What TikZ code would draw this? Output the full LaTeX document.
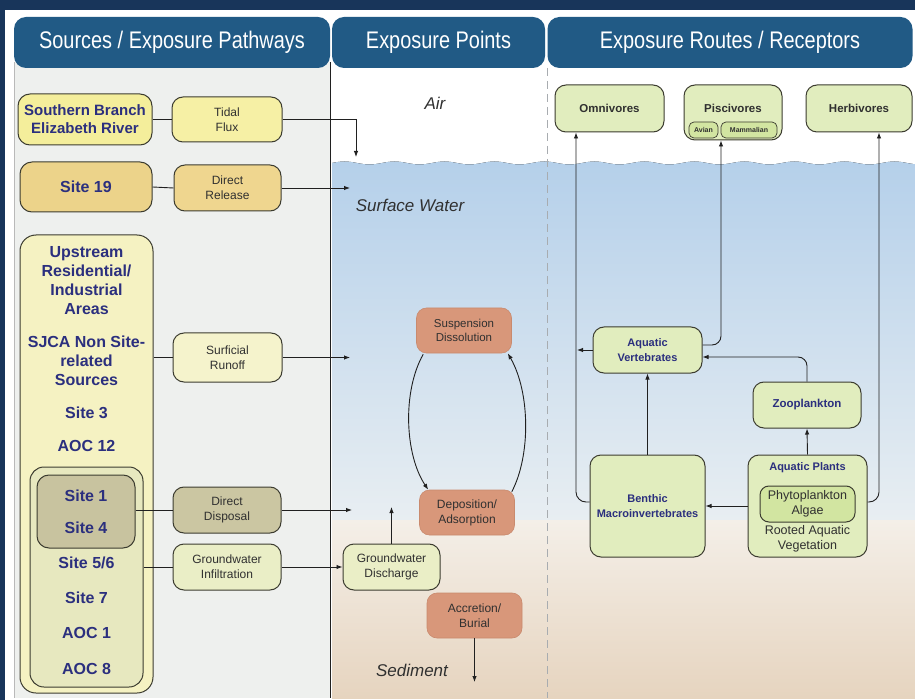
\documentclass[tikz,border=0pt]{standalone}
\usepackage{fontspec}
\setmainfont{Liberation Sans}
\newfontfamily\hdrfont[FakeStretch=0.83]{Liberation Sans}
\usetikzlibrary{arrows.meta,calc}
\definecolor{navyb}{HTML}{18355A}
\definecolor{hdrc}{HTML}{215A85}
\definecolor{panelc}{HTML}{EEF0EE}
\definecolor{boxline}{HTML}{3C3C30}
\definecolor{linec}{HTML}{202020}
\definecolor{tnavy}{HTML}{2B2F7E}
\definecolor{tdark}{HTML}{303030}
\definecolor{ylwA}{HTML}{F4EE9B}
\definecolor{ylwB}{HTML}{F6F0A5}
\definecolor{goldA}{HTML}{ECD38A}
\definecolor{goldB}{HTML}{EFD68F}
\definecolor{bigc}{HTML}{F5F2C2}
\definecolor{innerc}{HTML}{E7E8BF}
\definecolor{khaki}{HTML}{C8C39F}
\definecolor{khakiB}{HTML}{CBC6A2}
\definecolor{paleY}{HTML}{F5F3CC}
\definecolor{paleG}{HTML}{EAEEC6}
\definecolor{salmon}{HTML}{D8977A}
\definecolor{salmonedge}{HTML}{C98A6E}
\definecolor{recg}{HTML}{E1EDBE}
\definecolor{phyto}{HTML}{D2E5A1}
\definecolor{waterA}{HTML}{B5D0EA}
\definecolor{waterB}{HTML}{E8EEF2}
\definecolor{sedA}{HTML}{F4EFE8}
\definecolor{sedB}{HTML}{E6D4BF}
\definecolor{dashc}{HTML}{A8ACB0}
\begin{document}
\begin{tikzpicture}[x=1pt,y=-1pt,
  every node/.style={inner sep=1pt},
  bx/.style={draw=boxline, line width=1pt, rounded corners=12pt, align=center},
  src/.style={bx, font=\fontsize{15.5}{18}\selectfont\bfseries, text=tnavy},
  pth/.style={bx, rounded corners=11pt, font=\fontsize{12}{15}\selectfont, text=tdark, minimum width=108, minimum height=46},
  sal/.style={fill=salmon, draw=salmonedge, line width=0.6pt, rounded corners=10pt, align=center, minimum width=95, minimum height=45, font=\fontsize{11.5}{14.5}\selectfont, text=tdark},
  rec/.style={bx, fill=recg, rounded corners=11pt},
  lbl/.style={font=\fontsize{17}{20}\selectfont\itshape, text=tdark},
  hdr/.style={fill=hdrc, rounded corners=12pt, font=\hdrfont\fontsize{24}{28}\selectfont, text=white},
  srct/.style={font=\fontsize{16}{19}\selectfont\bfseries, text=tnavy, align=center},
  subb/.style={draw=boxline, line width=0.7pt, fill=phyto, rounded corners=5pt, font=\fontsize{7}{8}\selectfont\bfseries, text=tdark, inner sep=0.5pt},
  ln/.style={draw=linec, line width=0.9pt},
  arr/.style={ln, -{Latex[length=6pt,width=4.5pt]}},
]
\useasboundingbox (0,0) rectangle (915,700);
% background frame
\fill[navyb] (0,0) rectangle (915,700);
\fill[white] (5,10) rectangle (915,700);
% left panel
\fill[panelc] (14,62) rectangle (330,698);
\draw[gray!55, line width=0.6pt] (14,62) -- (14,698);
% air / water / sediment
\fill[white] (332,62) rectangle (915,698);
\begin{scope}
  \clip (332,62) rectangle (915,698);
  \fill[top color=waterA, bottom color=waterB]
    (332,163) \foreach \i in {1,...,12}{ sin ++(12.5,-1.5) cos ++(12.5,1.5) sin ++(12.5,1.5) cos ++(12.5,-1.5) }
    -- (932,520) -- (332,520) -- cycle;
  \fill[top color=sedA, bottom color=sedB] (332,520) rectangle (915,698);
\end{scope}
\draw[dashc, line width=0.8pt, dash pattern=on 8pt off 5pt] (547,68) -- (547,698);
\draw[linec, line width=1pt] (330,62) -- (330,698);
% headers
\node[hdr, minimum width=316, minimum height=51] (h1) at (172,42.5) {Sources / Exposure Pathways};
\node[hdr, minimum width=213, minimum height=51] (h2) at (438.5,42.5) {Exposure Points};
\node[hdr, minimum width=365, minimum height=51] (h3) at (730,42.5) {Exposure Routes / Receptors};

% ---------- Sources / pathways ----------
\node[src, fill=ylwA, minimum width=134, minimum height=51, font=\fontsize{15}{18}\selectfont\bfseries] (sb) at (85,119.5) {Southern Branch\\Elizabeth River};
\node[pth, fill=ylwB, minimum width=110, minimum height=45] (tf) at (227,119.5) {Tidal\\Flux};
\node[src, fill=goldA, minimum width=132, minimum height=50, font=\fontsize{16}{19}\selectfont\bfseries] (s19) at (86,187) {Site 19};
\node[pth, fill=goldB, minimum width=107, minimum height=46] (dr) at (227.5,188) {Direct\\Release};

\node[bx, fill=bigc, rounded corners=16pt, minimum width=133, minimum height=458] (big) at (86.5,464) {};
\node[bx, fill=innerc, rounded corners=14pt, minimum width=113, minimum height=220] (inner) at (86.5,577) {};
\node[bx, fill=khaki, rounded corners=12pt, minimum width=98, minimum height=73, font=\fontsize{16}{19}\selectfont\bfseries, text=tnavy] (s14) at (86,511.5) {Site 1\\[13pt]Site 4};

\node[srct] (t1) at (86.5,281) {Upstream\\Residential/\\Industrial\\Areas};
\node[srct] (t2) at (86.5,361) {SJCA Non Site-\\related\\Sources};
\node[srct] (t3) at (86.5,413) {Site 3};
\node[srct] (t4) at (86.5,446) {AOC 12};
\node[srct] (t5) at (86.5,563) {Site 5/6};
\node[srct] (t6) at (86.5,598) {Site 7};
\node[srct] (t7) at (86.5,633) {AOC 1};
\node[srct] (t8) at (86.5,669) {AOC 8};

\node[pth, fill=paleY, minimum width=109, minimum height=49] (sr) at (227.5,357.5) {Surficial\\Runoff};
\node[pth, fill=khakiB, minimum width=108, minimum height=46] (dd) at (227,510) {Direct\\Disposal};
\node[pth, fill=paleG, minimum width=108, minimum height=46] (gi) at (227,567) {Groundwater\\Infiltration};

% ---------- Exposure points ----------
\node[lbl] (air) at (435,103) {Air};
\node[lbl] (sw) at (410,205) {Surface Water};
\node[lbl] (sed) at (412,670) {Sediment};
\node[sal] (sd) at (464,330.5) {Suspension\\Dissolution};
\node[sal, font=\fontsize{12}{15}\selectfont] (dep) at (467,512.5) {Deposition/\\Adsorption};
\node[sal, font=\fontsize{12}{15}\selectfont] (ab) at (474.5,615.5) {Accretion/\\Burial};
\node[pth, fill=paleG, minimum width=97, minimum height=46] (gd) at (391.5,567) {Groundwater\\Discharge};

% ---------- Receptors ----------
\node[rec, minimum width=109, minimum height=47, font=\fontsize{11.5}{14}\selectfont\bfseries, text=tdark] (omn) at (609.5,108.5) {Omnivores};
\node[rec, minimum width=98, minimum height=55] (pis) at (733,112.5) {};
\node[font=\fontsize{11.5}{14}\selectfont\bfseries, text=tdark] (pist) at (733,108) {Piscivores};
\node[subb, minimum width=29, minimum height=16] (avi) at (703.5,130) {Avian};
\node[subb, minimum width=56, minimum height=16] (mam) at (749,130) {Mammalian};
\node[rec, minimum width=106, minimum height=47, font=\fontsize{11.5}{14}\selectfont\bfseries, text=tdark] (herb) at (859,108.5) {Herbivores};

\node[rec, minimum width=109, minimum height=46, font=\fontsize{11}{15}\selectfont\bfseries, text=tnavy] (av) at (647.5,350) {Aquatic\\Vertebrates};
\node[rec, minimum width=108, minimum height=46, font=\fontsize{11.5}{14}\selectfont\bfseries, text=tnavy] (zp) at (807,405) {Zooplankton};
\node[rec, minimum width=115, minimum height=102, font=\fontsize{11}{15}\selectfont\bfseries, text=tnavy] (bm) at (647.5,506) {Benthic\\Macroinvertebrates};
\node[rec, minimum width=119, minimum height=102] (ap) at (807.5,506) {};
\node[font=\fontsize{11}{13}\selectfont\bfseries, text=tnavy] (apt) at (807.5,468) {Aquatic Plants};
\node[bx, fill=phyto, rounded corners=9pt, minimum width=95, minimum height=36, font=\fontsize{12.5}{15}\selectfont, text=tdark] (ph) at (807.5,504) {Phytoplankton\\Algae};
\node[align=center, font=\fontsize{12.5}{15}\selectfont, text=tdark] (rav) at (807.5,539) {Rooted Aquatic\\Vegetation};

% ---------- connectors ----------
\coordinate (cTF) at (356,157);
\coordinate (cDR) at (350,188);
\coordinate (cSR) at (350,357.5);
\coordinate (cDD) at (352,510);
\coordinate (cGD) at (391.5,507);
\coordinate (cAB) at (474.5,682);
\coordinate (cAV) at (577,350);

\draw[ln] (sb.east) -- (tf.west);
\draw[arr] (tf.east) -| (cTF);
\draw[ln] (s19.east) -- (dr.west);
\draw[arr] (dr.east) -- (cDR);
\draw[ln] (sr.west -| big.east) -- (sr.west);
\draw[arr] (sr.east) -- (cSR);
\draw[ln] (dd.west -| s14.east) -- (dd.west);
\draw[arr] (dd.east) -- (cDD);
\draw[ln] (gi.west -| inner.east) -- (gi.west);
\draw[arr] (gi.east) -- (gd.west);

\draw[arr] (gd.north) -- (cGD);
\draw[arr] (ab.south) -- (cAB);
\draw[arr] ($(sd.south west)+(7,1)$) .. controls (402,392) and (405,455) .. ($(dep.north west)+(9,0)$);
\draw[arr] ($(dep.north east)+(-3,2)$) .. controls (531,455) and (530,392) .. ($(sd.south east)+(-4,0)$);

\draw[arr] (bm.north) -- (av.south);
\draw[arr] (ap.west |- bm.east) -- (bm.east);
\draw[arr] (ap.north) -- (zp.south);
\draw[arr, rounded corners=9pt] (zp.north) |- ([yshift=-7pt]av.east);
\draw[arr, rounded corners=9pt] ([yshift=5pt]av.east) -| ([xshift=-12pt]pis.south);
\draw[arr] (av.west) -- (cAV);
\draw[arr, rounded corners=10pt] ([yshift=4pt]bm.west) -| ([xshift=-33.5pt]omn.south);
\draw[arr, rounded corners=10pt] ([yshift=4pt]ap.east) -| ([xshift=20pt]herb.south);
\end{tikzpicture}
\end{document}
